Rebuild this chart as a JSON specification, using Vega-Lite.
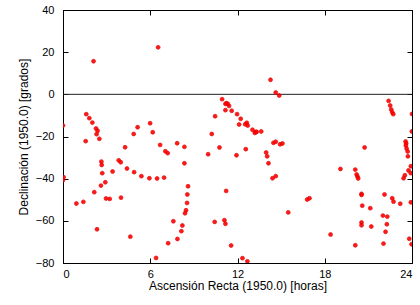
{
  "$schema": "https://vega.github.io/schema/vega-lite/v6.json",
  "width": 349,
  "height": 253,
  "autosize": {"type": "none"},
  "padding": {"left": 63, "top": 10, "right": 8, "bottom": 42},
  "background": "white",
  "view": {"stroke": "black", "strokeWidth": 1},
  "config": {
    "font": "Liberation Sans",
    "axis": {
      "labelFont": "Liberation Sans",
      "titleFont": "Liberation Sans",
      "labelFontSize": 11,
      "titleFontSize": 12,
      "titleFontWeight": "normal",
      "labelColor": "black",
      "titleColor": "black",
      "tickColor": "black",
      "domainColor": "black",
      "domainWidth": 1,
      "tickSize": -5,
      "tickWidth": 1,
      "grid": false
    }
  },
  "data": {
    "values": [
      {"ar": 2.1, "dec": 15.7}, {"ar": 6.54, "dec": 22.3}, {"ar": 0, "dec": -14.8}, {"ar": 1.6, "dec": -9.4},
      {"ar": 1.81, "dec": -11.3}, {"ar": 2.02, "dec": -13.4}, {"ar": 2.27, "dec": -16.2}, {"ar": 2.38, "dec": -17.3},
      {"ar": 2.31, "dec": -18.9}, {"ar": 2.5, "dec": -21.1}, {"ar": 5.13, "dec": -15.6}, {"ar": 5.99, "dec": -13.7},
      {"ar": 6.17, "dec": -18}, {"ar": 4.86, "dec": -18.8}, {"ar": 1.56, "dec": -22.2}, {"ar": 4.27, "dec": -25.1},
      {"ar": 6.68, "dec": -24}, {"ar": 7.04, "dec": -27}, {"ar": 7.2, "dec": -27.9}, {"ar": 2.64, "dec": -31.9},
      {"ar": 2.66, "dec": -33.5}, {"ar": 3.83, "dec": -31.3}, {"ar": 3.97, "dec": -32.2}, {"ar": 2.7, "dec": -37.4},
      {"ar": 3.41, "dec": -36.6}, {"ar": 4.4, "dec": -35.2}, {"ar": 4.89, "dec": -36.9}, {"ar": 5.39, "dec": -38.8},
      {"ar": 5.94, "dec": -39.8}, {"ar": 6.47, "dec": -39.9}, {"ar": 6.95, "dec": -39.5}, {"ar": 0.04, "dec": -39.3},
      {"ar": 0, "dec": -40.7}, {"ar": 2.91, "dec": -41.7}, {"ar": 2.61, "dec": -43.3}, {"ar": 2.15, "dec": -46.4},
      {"ar": 1.4, "dec": -51}, {"ar": 0.92, "dec": -51.8}, {"ar": 2.96, "dec": -49.4}, {"ar": 3.21, "dec": -49.6},
      {"ar": 3.99, "dec": -49}, {"ar": 7.59, "dec": -60.2}, {"ar": 2.34, "dec": -64}, {"ar": 4.63, "dec": -67.5},
      {"ar": 7.23, "dec": -70.6}, {"ar": 6.4, "dec": -77.6}, {"ar": 14.27, "dec": 6.9}, {"ar": 14.63, "dec": 0.85},
      {"ar": 14.87, "dec": -0.57}, {"ar": 10.94, "dec": -2.3}, {"ar": 11.24, "dec": -4.2}, {"ar": 11.33, "dec": -4.5},
      {"ar": 11.17, "dec": -4.5}, {"ar": 11.42, "dec": -5.5}, {"ar": 11.17, "dec": -7.5}, {"ar": 11.6, "dec": -7.8},
      {"ar": 11.97, "dec": -9.4}, {"ar": 12.22, "dec": -11.6}, {"ar": 12.11, "dec": -14.3}, {"ar": 12.64, "dec": -13.5},
      {"ar": 12.53, "dec": -14.2}, {"ar": 12.7, "dec": -14.8}, {"ar": 10.46, "dec": -10.4}, {"ar": 10.23, "dec": -18.8},
      {"ar": 13.03, "dec": -16.8}, {"ar": 13.26, "dec": -17.8}, {"ar": 13.19, "dec": -18.3}, {"ar": 13.32, "dec": -17.8},
      {"ar": 13.63, "dec": -17.6}, {"ar": 7.85, "dec": -23.2}, {"ar": 8.35, "dec": -24.9}, {"ar": 10.76, "dec": -25.2},
      {"ar": 9.98, "dec": -28.4}, {"ar": 11.93, "dec": -28.9}, {"ar": 12.57, "dec": -26}, {"ar": 13.97, "dec": -27.6},
      {"ar": 14.04, "dec": -29.4}, {"ar": 14.13, "dec": -32.7}, {"ar": 14.47, "dec": -23}, {"ar": 14.63, "dec": -22.5},
      {"ar": 14.93, "dec": -23.7}, {"ar": 15.09, "dec": -23.3}, {"ar": 14.41, "dec": -39.8}, {"ar": 14.63, "dec": -38.8},
      {"ar": 8.35, "dec": -32.7}, {"ar": 8.6, "dec": -43.6}, {"ar": 8.55, "dec": -47.5}, {"ar": 8.53, "dec": -51.5},
      {"ar": 8.46, "dec": -55}, {"ar": 8.39, "dec": -56.4}, {"ar": 8.21, "dec": -62.2}, {"ar": 8.14, "dec": -64.9},
      {"ar": 7.87, "dec": -68.6}, {"ar": 11.22, "dec": -45.8}, {"ar": 10.43, "dec": -60.5}, {"ar": 11.1, "dec": -59.7},
      {"ar": 11.17, "dec": -61.4}, {"ar": 11.56, "dec": -71.7}, {"ar": 12.34, "dec": -77.7}, {"ar": 12.68, "dec": -79.2},
      {"ar": 15.49, "dec": -56}, {"ar": 22.39, "dec": -3.1}, {"ar": 22.5, "dec": -5.3}, {"ar": 22.57, "dec": -7.2},
      {"ar": 22.64, "dec": -8.5}, {"ar": 22.71, "dec": -9.4}, {"ar": 24, "dec": -9.3}, {"ar": 23.99, "dec": -17.6},
      {"ar": 23.56, "dec": -22.4}, {"ar": 23.6, "dec": -23.3}, {"ar": 23.58, "dec": -24.3}, {"ar": 23.63, "dec": -25.7},
      {"ar": 23.7, "dec": -27.1}, {"ar": 23.72, "dec": -29.4}, {"ar": 23.92, "dec": -34.1}, {"ar": 23.76, "dec": -36.1},
      {"ar": 23.92, "dec": -37.4}, {"ar": 23.51, "dec": -38.4}, {"ar": 23.42, "dec": -39.8}, {"ar": 20.74, "dec": -25.2},
      {"ar": 19.08, "dec": -35.4}, {"ar": 20.1, "dec": -35.7}, {"ar": 20.19, "dec": -38}, {"ar": 20.25, "dec": -39},
      {"ar": 20.3, "dec": -39.9}, {"ar": 20.53, "dec": -47.2}, {"ar": 20.53, "dec": -47.7}, {"ar": 22.11, "dec": -47.5},
      {"ar": 22.64, "dec": -49.3}, {"ar": 22.73, "dec": -50.9}, {"ar": 23.19, "dec": -51.9}, {"ar": 23.92, "dec": -51.2},
      {"ar": 16.79, "dec": -49.9}, {"ar": 16.95, "dec": -49.3}, {"ar": 20.58, "dec": -52.8}, {"ar": 21.13, "dec": -54},
      {"ar": 22, "dec": -57.5}, {"ar": 22.3, "dec": -58}, {"ar": 20.53, "dec": -60.8}, {"ar": 20.53, "dec": -62.1},
      {"ar": 21.2, "dec": -62.7}, {"ar": 22.27, "dec": -61.6}, {"ar": 22.18, "dec": -65.2}, {"ar": 18.4, "dec": -66.5},
      {"ar": 20.1, "dec": -71.6}, {"ar": 22.04, "dec": -70.8}, {"ar": 23.81, "dec": -68.5}, {"ar": 23.97, "dec": -71.1}
    ]
  },
  "layer": [
    {
      "data": {"values": [{"dec": 0}]},
      "mark": {"type": "rule", "color": "#222222", "strokeWidth": 1},
      "encoding": {
        "y": {"field": "dec", "type": "quantitative", "scale": {"domain": [-80, 40], "nice": false, "zero": false}, "axis": null}
      }
    },
    {
      "mark": {"type": "point", "shape": "circle", "filled": true, "size": 15, "color": "#ff0000", "stroke": "#e60000", "strokeWidth": 0.8, "opacity": 0.9, "clip": true},
      "encoding": {
        "x": {
          "field": "ar", "type": "quantitative",
          "scale": {"domain": [0, 24], "nice": false, "zero": false},
          "axis": {"orient": "bottom", "values": [0, 6, 12, 18, 24], "format": "d", "title": "Ascensión Recta (1950.0) [horas]", "labelPadding": 10, "titlePadding": 1}
        },
        "y": {
          "field": "dec", "type": "quantitative",
          "scale": {"domain": [-80, 40], "nice": false, "zero": false},
          "axis": {"orient": "left", "values": [-80, -60, -40, -20, 0, 20, 40], "format": "d", "title": "Declinación (1950.0) [grados]", "labelPadding": 14, "titlePadding": 5}
        }
      }
    },
    {
      "mark": {"type": "point", "opacity": 0},
      "encoding": {
        "x": {
          "field": "ar", "type": "quantitative",
          "scale": {"domain": [0, 24], "nice": false, "zero": false},
          "axis": {"orient": "top", "values": [0, 6, 12, 18, 24], "labels": false, "title": null}
        },
        "y": {
          "field": "dec", "type": "quantitative",
          "scale": {"domain": [-80, 40], "nice": false, "zero": false},
          "axis": {"orient": "right", "values": [-80, -60, -40, -20, 0, 20, 40], "labels": false, "title": null}
        }
      }
    }
  ],
  "resolve": {"axis": {"x": "independent", "y": "independent"}}
}
